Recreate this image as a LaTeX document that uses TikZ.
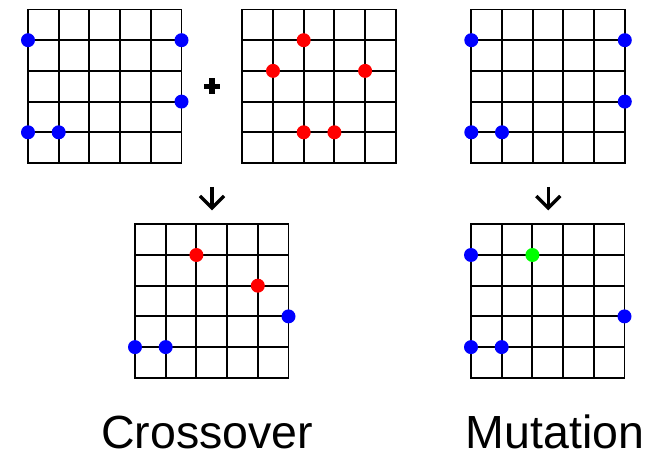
\documentclass[tikz,border=0pt]{standalone}
\usepackage{fontspec}
\setmainfont{Liberation Sans}
\definecolor{dotblue}{RGB}{0,0,255}
\definecolor{dotred}{RGB}{255,0,0}
\definecolor{dotgreen}{RGB}{0,255,0}
\newcommand{\cellsz}{30.7}
\newcommand{\mygrid}[3]{%
  \coordinate (#1) at (#2,#3);
  \begin{scope}[shift={(#1)}]
    \foreach \i in {0,...,5}{
      \draw[gridline] (\i*\cellsz,0) -- (\i*\cellsz,5*\cellsz);
      \draw[gridline] (0,\i*\cellsz) -- (5*\cellsz,\i*\cellsz);
    }
  \end{scope}}
\newcommand{\mydot}[4]{\fill[#4] ($(#1)+(#2*\cellsz,#3*\cellsz)$) circle (7pt);}
\usetikzlibrary{calc}
\begin{document}
\begin{tikzpicture}[x=1pt,y=-1pt,
  gridline/.style={line width=1.9pt, black, line cap=rect},
  arrowline/.style={line width=3.3pt, black, line join=miter},
  plusline/.style={line width=5.3pt, black},
  label/.style={anchor=base, font=\fontsize{46.5}{46.5}\selectfont, inner sep=0pt, text depth=0pt}]
\useasboundingbox (0,0) rectangle (665,454);
\fill[white] (0,0) rectangle (665,454);
% grids
\mygrid{gA}{28}{9.5}
\mygrid{gB}{242.3}{9.5}
\mygrid{gC}{471.3}{9.5}
\mygrid{gD}{135}{224.3}
\mygrid{gE}{471}{224.3}
% parent 1
\mydot{gA}{0}{1}{dotblue}
\mydot{gA}{5}{1}{dotblue}
\mydot{gA}{5}{3}{dotblue}
\mydot{gA}{0}{4}{dotblue}
\mydot{gA}{1}{4}{dotblue}
% parent 2
\mydot{gB}{2}{1}{dotred}
\mydot{gB}{1}{2}{dotred}
\mydot{gB}{4}{2}{dotred}
\mydot{gB}{2}{4}{dotred}
\mydot{gB}{3}{4}{dotred}
% mutation parent
\mydot{gC}{0}{1}{dotblue}
\mydot{gC}{5}{1}{dotblue}
\mydot{gC}{5}{3}{dotblue}
\mydot{gC}{0}{4}{dotblue}
\mydot{gC}{1}{4}{dotblue}
% crossover child
\mydot{gD}{2}{1}{dotred}
\mydot{gD}{4}{2}{dotred}
\mydot{gD}{5}{3}{dotblue}
\mydot{gD}{0}{4}{dotblue}
\mydot{gD}{1}{4}{dotblue}
% mutation child
\mydot{gE}{0}{1}{dotblue}
\mydot{gE}{2}{1}{dotgreen}
\mydot{gE}{5}{3}{dotblue}
\mydot{gE}{0}{4}{dotblue}
\mydot{gE}{1}{4}{dotblue}
% plus
\coordinate (plusc) at (212,86.5);
\draw[plusline] ($(plusc)+(-8,0)$) -- ($(plusc)+(8,0)$);
\draw[plusline] ($(plusc)+(0,-8)$) -- ($(plusc)+(0,8)$);
% arrows
\coordinate (a1top) at (212,187);
\coordinate (a1tip) at (212,208);
\draw[arrowline] (a1top) -- (a1tip);
\draw[arrowline] ($(a1tip)+(-12,-12)$) -- (a1tip) -- ($(a1tip)+(12,-12)$);
\coordinate (a2top) at (548.3,187);
\coordinate (a2tip) at (548.3,208);
\draw[arrowline] (a2top) -- (a2tip);
\draw[arrowline] ($(a2tip)+(-12,-12)$) -- (a2tip) -- ($(a2tip)+(12,-12)$);
% labels
\node[label] (crosslabel) at (207.2,448.3) {Crossover};
\node[label] (mutlabel) at (555,448.3) {Mutation};
\end{tikzpicture}
\end{document}
